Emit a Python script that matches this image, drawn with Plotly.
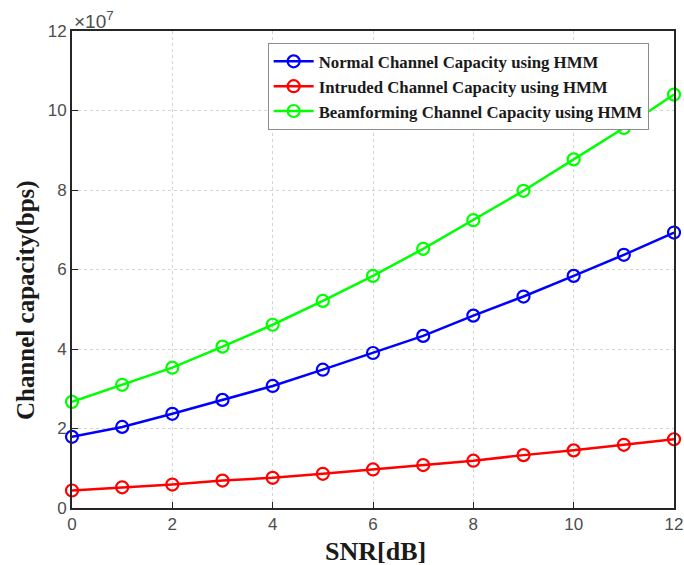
import plotly.graph_objects as go

snr = list(range(0, 13))
normal = [1.79, 2.04, 2.37, 2.72, 3.07, 3.48, 3.90, 4.33, 4.84, 5.32, 5.84, 6.37, 6.93]
intruded = [0.44, 0.52, 0.59, 0.69, 0.76, 0.86, 0.97, 1.08, 1.19, 1.33, 1.45, 1.59, 1.73]
beam = [2.67, 3.10, 3.53, 4.06, 4.61, 5.21, 5.84, 6.52, 7.24, 7.98, 8.77, 9.56, 10.40]
scale = 1e7

names = ["Normal Channel Capacity using HMM",
         "Intruded Channel Capacity using HMM",
         "Beamforming Channel Capacity using HMM"]
colors = ["#0000FF", "#FF0000", "#00FF00"]
series = [normal, intruded, beam]
ticks = [0, 2, 4, 6, 8, 10, 12]

fig = go.Figure()
for nm, c, s in zip(names, colors, series):
    fig.add_trace(go.Scatter(
        x=snr, y=[v * scale for v in s], name="<b>" + nm + "</b>", mode="lines+markers",
        line=dict(color=c, width=2.5),
        marker=dict(symbol="circle-open", size=12, color=c, line=dict(width=2.2, color=c)),
        cliponaxis=False,
    ))

axis_common = dict(
    showline=True, linecolor="#262626", linewidth=2, mirror=True,
    ticks="inside", ticklen=6, tickcolor="#262626",
    showgrid=True, gridcolor="#d4d4d4", griddash="dot", gridwidth=1,
    zeroline=False, automargin=False,
    tickfont=dict(family="Liberation Sans, Arial", size=17, color="#4d4d4d"),
)

fig.update_layout(
    width=684, height=565,
    margin=dict(l=72, r=10, t=31, b=57),
    paper_bgcolor="white", plot_bgcolor="white",
    showlegend=True,
    legend=dict(
        x=0.325, y=0.975, xanchor="left", yanchor="top",
        bgcolor="white", bordercolor="#8c8c8c", borderwidth=1,
        font=dict(family="Liberation Serif, Times New Roman", size=16.8, color="#1a1a1a"),
        tracegroupgap=0, itemwidth=40,
    ),
    xaxis=dict(range=[0, 12], tickvals=ticks, ticktext=[str(t) for t in ticks], **axis_common),
    yaxis=dict(range=[0, 12 * scale], tickvals=[t * scale for t in ticks],
               ticktext=[str(t) for t in ticks], **axis_common),
)

fig.add_annotation(
    x=0, y=1, xref="paper", yref="paper", xanchor="left", yanchor="bottom",
    text="×10<sup>7</sup>", showarrow=False, yshift=-3,
    font=dict(family="Liberation Sans, Arial", size=19, color="#4d4d4d"),
)
fig.add_annotation(
    x=(375 - 72) / 602, y=(508 - 551) / 477, xref="paper", yref="paper", showarrow=False,
    text="<b>SNR[dB]</b>", xanchor="center", yanchor="middle",
    font=dict(family="Liberation Serif, Times New Roman", size=26, color="#1a1a1a"),
)
fig.add_annotation(
    x=(26 - 72) / 602, y=(508 - 300) / 477, xref="paper", yref="paper", showarrow=False,
    text="<b>Channel capacity(bps)</b>", textangle=-90, xanchor="center", yanchor="middle",
    font=dict(family="Liberation Serif, Times New Roman", size=25, color="#1a1a1a"),
)

fig.write_html("out.html")
